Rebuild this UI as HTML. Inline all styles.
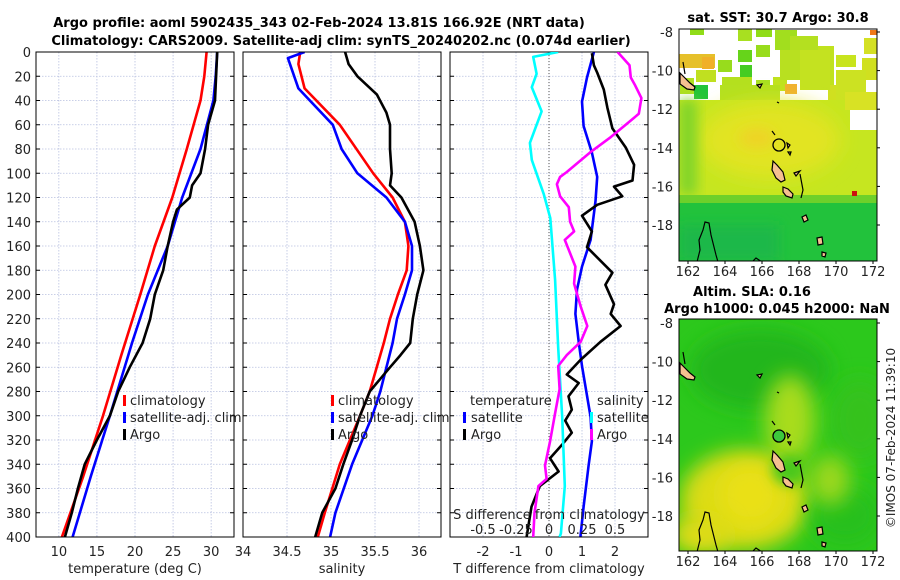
<!DOCTYPE html>
<html><head><meta charset="utf-8"><style>
html,body{margin:0;padding:0;background:#fff;}
svg{display:block;font-family:"DejaVu Sans","Liberation Sans",sans-serif;}
</style></head><body>
<svg id="fig" width="900" height="580" viewBox="0 0 900 580">
<defs>
<filter id="blur6" x="-50%" y="-50%" width="200%" height="200%"><feGaussianBlur stdDeviation="6"/></filter>
<filter id="blur10" x="-50%" y="-50%" width="200%" height="200%"><feGaussianBlur stdDeviation="10"/></filter>
<clipPath id="cm1"><rect x="679" y="29" width="198" height="232"/></clipPath>
<clipPath id="cm2"><rect x="679" y="319" width="198" height="232"/></clipPath>
<clipPath id="cp1"><rect x="36" y="52" width="198" height="485"/></clipPath>
<clipPath id="cp2"><rect x="243" y="52" width="198" height="485"/></clipPath>
<clipPath id="cp3"><rect x="450" y="52" width="198" height="485"/></clipPath>
</defs>
<text x="319" y="27" text-anchor="middle" font-weight="bold" font-size="13">Argo profile: aoml 5902435_343 02-Feb-2024 13.81S 166.92E (NRT data)</text>
<text x="341" y="45" text-anchor="middle" font-weight="bold" font-size="13">Climatology: CARS2009. Satellite-adj clim: synTS_20240202.nc (0.074d earlier)</text>

<!-- Map 1 SST -->
<g clip-path="url(#cm1)">
<rect x="679" y="29" width="198" height="232" fill="#c6e41e"/>
<rect x="679" y="29" width="198" height="72" fill="#ffffff"/>
<g fill="#a8e020">
<rect x="690" y="29" width="14" height="6" fill="#90dc18"/><rect x="738" y="29" width="14" height="12"/><rect x="756" y="29" width="16" height="8" fill="#90dc18"/>
<rect x="775" y="30" width="22" height="20" fill="#a2de1e"/><rect x="790" y="36" width="28" height="30" fill="#b4e020"/><rect x="818" y="46" width="16" height="40" fill="#c0e21e"/>
<rect x="836" y="55" width="20" height="12" fill="#c8e41e"/><rect x="864" y="38" width="13" height="16" fill="#d4e024"/><rect x="862" y="58" width="15" height="22" fill="#d0e020"/>
<rect x="738" y="50" width="14" height="12" fill="#66d41a"/><rect x="756" y="45" width="14" height="12" fill="#98dc1c"/><rect x="718" y="60" width="14" height="12" fill="#98dc1c"/>
<rect x="740" y="65" width="12" height="12" fill="#44cc22"/><rect x="773" y="77" width="14" height="14" fill="#c0e21e"/><rect x="794" y="66" width="26" height="14" fill="#c4e21e"/>
<rect x="679" y="54" width="36" height="14" fill="#e6c02a"/><rect x="722" y="77" width="30" height="14" fill="#b4e01e"/><rect x="756" y="80" width="14" height="8" fill="#a8e020"/>
<rect x="828" y="85" width="22" height="16" fill="#d0e020"/><rect x="680" y="78" width="14" height="16" fill="#b0e020"/><rect x="694" y="85" width="14" height="14" fill="#22c43a"/>
<rect x="785" y="84" width="12" height="10" fill="#f0b030"/>
<rect x="702" y="57" width="12" height="12" fill="#f0b028"/><rect x="870" y="30" width="7" height="5" fill="#f07818"/>
<rect x="800" y="50" width="30" height="40" fill="#c4e220"/><rect x="780" y="50" width="20" height="30" fill="#b8e020"/>
<rect x="720" y="85" width="60" height="16" fill="#b4e020"/><rect x="836" y="70" width="30" height="30" fill="#cce222"/>
<rect x="696" y="70" width="20" height="12" fill="#c0e020"/>
</g>
<rect x="679" y="100" width="198" height="105" fill="#c6e620"/>
<ellipse cx="770" cy="140" rx="70" ry="38" fill="#e2e424" filter="url(#blur10)"/>
<ellipse cx="757" cy="138" rx="18" ry="10" fill="#eed428" filter="url(#blur6)"/>
<rect x="679" y="100" width="18" height="95" fill="#80d42a" filter="url(#blur6)"/>
<rect x="850" y="110" width="27" height="20" fill="#ffffff"/><rect x="845" y="92" width="32" height="18" fill="#d8e224"/>
<rect x="679" y="195" width="198" height="12" fill="#6ed02a"/>
<rect x="679" y="203" width="198" height="60" fill="#22c23c"/>
<rect x="679" y="225" width="100" height="36" fill="#1cb848" filter="url(#blur6)"/>
<rect x="852" y="191" width="5" height="5" fill="#cc1010"/>
</g>
<rect x="679" y="29" width="198" height="232" fill="none" stroke="#000"/>

<!-- Map 2 SLA -->
<g clip-path="url(#cm2)">
<rect x="679" y="319" width="198" height="232" fill="#2cc81c"/>
<ellipse cx="760" cy="370" rx="70" ry="40" fill="#22b61e" filter="url(#blur10)"/>
<ellipse cx="860" cy="420" rx="30" ry="40" fill="#36c21a" filter="url(#blur10)"/>
<ellipse cx="790" cy="420" rx="25" ry="45" fill="#a8dc1e" filter="url(#blur10)"/>
<ellipse cx="745" cy="500" rx="65" ry="50" fill="#dcdc18" filter="url(#blur10)"/>
<ellipse cx="750" cy="495" rx="30" ry="30" fill="#eae014" filter="url(#blur10)"/>
<ellipse cx="700" cy="535" rx="30" ry="20" fill="#e0dc18" filter="url(#blur10)"/>
<ellipse cx="790" cy="470" rx="18" ry="15" fill="#48c81a" filter="url(#blur6)"/>
<ellipse cx="845" cy="515" rx="35" ry="30" fill="#28c01e" filter="url(#blur10)"/>
<ellipse cx="830" cy="480" rx="20" ry="25" fill="#9cd81e" filter="url(#blur10)"/>
</g>
<rect x="679" y="319" width="198" height="232" fill="none" stroke="#000"/>
<g id="coast1" clip-path="url(#cm1)" fill="#f5c090" stroke="#000" stroke-width="1.2">
<path d="M683,62 L685,74 M680,73 L684,77 L690,83 L695,87 L694,90 L687,89 L680,84Z"/>
<path d="M773,161 L777,165 L783,172 L785,180 L781,182 L776,178 L772,170Z"/>
<path d="M783,187 L788,189 L793,194 L792,198 L786,196 L783,192Z"/>
<path d="M802,217 L806,215 L808,220 L804,222Z"/><path d="M817,238 L822,237 L823,244 L818,245Z"/><path d="M822,252 L826,253 L825,257 L822,256Z"/>
<path d="M800,174 L803,190 L801,198" fill="none"/><path d="M794,173 L800,171 L796,176Z"/>
<path d="M787,143 L790,145 L788,148Z"/><path d="M788,152 L791,152 L790,155Z"/><path d="M772,131 L775,135" fill="none"/>
<path d="M697,262 L700,250 L699,240 L703,230 L705,222 L709,223 L711,235 L714,247 L716,255 L718,262" fill="none"/>
<path d="M752,262 L756,258 L762,262" fill="none"/><path d="M757,85 L762,84 L760,88Z"/><path d="M777,102 L779,103"/>
</g>
<g clip-path="url(#cm2)">
<use href="#coast1" transform="translate(0,290)"/>
</g>
<circle cx="779" cy="145" r="6" fill="none" stroke="#000" stroke-width="1.3"/>
<circle cx="779" cy="436" r="6" fill="#3cc83c" stroke="#000" stroke-width="1.3"/>
<text x="778" y="22" text-anchor="middle" font-weight="bold" font-size="13">sat. SST: 30.7 Argo: 30.8</text>
<text x="752" y="296" text-anchor="middle" font-weight="bold" font-size="13">Altim. SLA: 0.16</text>
<text x="777" y="313" text-anchor="middle" font-weight="bold" font-size="13">Argo h1000: 0.045 h2000: NaN</text>
<text transform="translate(895,438) rotate(-90)" text-anchor="middle" font-size="12" fill="#222">©IMOS 07-Feb-2024 11:39:10</text>
<g id="mapaxes" font-size="12" fill="#222"></g>

<g id="panels"></g>
</svg>
<script>
// ---- data ----
const depthTicks = [0,20,40,60,80,100,120,140,160,180,200,220,240,260,280,300,320,340,360,380,400];
const tempTicks = [10,15,20,25,30];
const salTicks = [34,34.5,35,35.5,36];
const salTickLabels = ["34","34.5","35","35.5","36"];
const tdiffTicks = [-2,-1,0,1,2];
const sdiffTicks = [-0.5,-0.25,0,0.25,0.5];
const sdiffTickLabels = ["-0.5","-0.25","0","0.25","0.5"];
const lonTicks = [162,164,166,168,170,172];
const latTicks = [-8,-10,-12,-14,-16,-18];

const tClimDepth = [0,20,40,80,120,160,200,250,300,350,400];
const tClimVal   = [29.4,29.1,28.6,26.8,24.9,22.6,20.7,18.2,15.8,13.2,10.4];
const tSatDepth  = [0,20,40,80,120,160,200,240,300,350,400];
const tSatVal    = [30.8,30.6,30.3,28.6,26.2,24.3,21.7,19.6,16.7,14.2,11.8];
const tArgoDepth = [0,40,60,80,100,110,120,130,140,160,180,200,220,240,260,280,300,320,340,360,380,400];
const tArgoVal   = [30.8,30.5,29.6,29.2,28.6,27.5,27.2,25.5,25.0,24.3,23.7,22.6,22.0,21.0,19.3,17.8,16.7,15.0,13.4,12.5,11.7,10.8];

const sClimDepth = [0,10,30,60,100,120,140,160,180,200,220,240,280,300,340,380,400];
const sClimVal   = [34.65,34.63,34.7,35.1,35.48,35.7,35.84,35.88,35.86,35.76,35.67,35.6,35.44,35.33,35.1,34.93,34.85];
const sSatDepth  = [0,5,30,60,80,100,120,140,160,180,200,220,240,280,300,340,380,400];
const sSatVal    = [34.7,34.51,34.63,35.02,35.12,35.3,35.63,35.84,35.92,35.92,35.84,35.75,35.7,35.56,35.47,35.24,35.05,34.99];
const sArgoDepth = [0,10,20,35,50,60,80,100,110,120,140,160,180,200,220,240,250,260,280,300,320,340,360,380,400];
const sArgoVal   = [35.16,35.2,35.3,35.52,35.63,35.67,35.67,35.69,35.67,35.8,35.95,36.01,36.05,35.98,35.93,35.9,35.79,35.67,35.44,35.33,35.24,35.14,35.05,34.9,34.82];

const dtSatDepth = [0,21,41,61,83,103,123,155,177,196,216,239,259,301,321,341,375,400];
const dtSatVal   = [1.36,1.15,1.0,1.05,1.3,1.46,1.41,1.26,1.0,0.85,0.8,0.9,1.0,1.26,1.3,1.2,1.05,0.95];
const dtArgoDepth = [1,11,17,31,46,63,79,93,106,111,119,126,135,148,161,182,192,208,216,226,239,254,266,273,284,295,304,314,324,335,346,358,375,400];
const dtArgoVal   = [1.3,1.36,1.46,1.66,1.77,1.92,2.33,2.58,2.53,1.97,2.22,1.46,1.0,1.3,1.15,1.92,1.71,1.97,1.87,2.17,1.56,0.95,0.54,0.9,0.59,0.69,0.49,0.69,0.39,0.03,0.29,-0.28,-0.53,-0.68];
const dsSatDepth = [0,4,18,29,49,75,89,117,137,188,244,301,358,397,400];
const dsSatVal   = [0.07,-0.12,-0.094,-0.13,-0.056,-0.145,-0.13,-0.04,0.01,0.046,0.07,0.1,0.12,0.09,0.08];
const dsArgoDepth = [0,11,21,27,38,51,61,70,83,99,103,109,119,128,140,148,155,177,191,210,226,239,250,259,278,298,321,341,352,358,380,400];
const dsArgoVal   = [0.52,0.61,0.62,0.65,0.70,0.68,0.57,0.47,0.31,0.135,0.084,0.06,0.084,0.15,0.16,0.19,0.12,0.2,0.19,0.24,0.29,0.24,0.135,0.07,0.08,0.046,0.008,-0.03,-0.018,-0.08,-0.11,-0.12];

// ---- layout ----
const NS = "http://www.w3.org/2000/svg";
const top0 = 52, bot0 = 537;
const yD = d => top0 + (d/400)*(bot0-top0);
const svg = document.getElementById('panels');
function mk(tag, attrs, parent){ const e=document.createElementNS(NS,tag); for(const k in attrs) e.setAttribute(k,attrs[k]); (parent||svg).appendChild(e); return e; }

function panel(x0, xmin, xmax, name){
  const w=198;
  const xf = v => x0 + (v-xmin)/(xmax-xmin)*w;
  const g = mk('g',{});
  
  
  return {x0,w,xf,g};
}
function grid(p, xt, showY){
  depthTicks.forEach(d=>{
    const l=mk('line',{x1:p.x0,x2:p.x0+p.w,y1:yD(d),y2:yD(d),stroke:'#b8c0e0','stroke-width':0.8,'stroke-dasharray':'1.5,1.5'},p.g);
    
    
    mk('line',{x1:p.x0,x2:p.x0+4,y1:yD(d),y2:yD(d),stroke:'#000'},p.g);
    mk('line',{x1:p.x0+p.w-4,x2:p.x0+p.w,y1:yD(d),y2:yD(d),stroke:'#000'},p.g);
    if(showY){
      const t=mk('text',{x:p.x0-5,y:yD(d)+5,'text-anchor':'end','font-size':13,fill:'#222'},p.g);
      t.textContent=d;
      
      
    }
  });
  xt.forEach(v=>{
    const l=mk('line',{x1:p.xf(v),x2:p.xf(v),y1:top0,y2:bot0,stroke:'#b8c0e0','stroke-width':0.8,'stroke-dasharray':'1.5,1.5'},p.g);
    
    
  });
}
function series(p, depths, vals, color, clip, name){
  const pts = depths.map((d,i)=>p.xf(vals[i]).toFixed(1)+','+yD(d).toFixed(1)).join(' ');
  const pl = mk('polyline',{points:pts,fill:'none',stroke:color,'stroke-width':2.6,'stroke-linejoin':'round','clip-path':'url(#'+clip+')'},p.g);
  
  
}
function frame(p){ mk('rect',{x:p.x0,y:top0,width:p.w,height:bot0-top0,fill:'none',stroke:'#000'},p.g); }
function xlabels(p, ticks, labels, y){
  ticks.forEach((v,i)=>{
    const t=mk('text',{x:p.xf(v),y:y,'text-anchor':'middle','font-size':13,fill:'#222'},p.g);
    t.textContent=labels?labels[i]:v;
    
    
  });
}
function txt(x,y,s,opts,name){
  const t=mk('text',Object.assign({x:x,y:y,'font-size':13,fill:'#222'},opts||{}));
  t.textContent=s;
  
  
  return t;
}
function legMark(x,y,color){
  const r=mk('rect',{x:x,y:y-9,width:3,height:11,fill:color});
  
  
}

// Panel 1 temperature
const p1 = panel(36, 7, 33, 'temperature-panel');
grid(p1, tempTicks, true);
series(p1, tClimDepth, tClimVal, '#ff0000', 'cp1', 'temp-climatology-line');
series(p1, tSatDepth, tSatVal, '#0000ff', 'cp1', 'temp-satellite-line');
series(p1, tArgoDepth, tArgoVal, '#000000', 'cp1', 'temp-argo-line');
frame(p1); xlabels(p1, tempTicks, null, 556);
txt(135, 573, 'temperature (deg C)', {'text-anchor':'middle'}, 'temperature-axis-title');

// Panel 2 salinity
const p2 = panel(243, 34, 36.25, 'salinity-panel');
grid(p2, salTicks, false);
series(p2, sClimDepth, sClimVal, '#ff0000', 'cp2', 'sal-climatology-line');
series(p2, sSatDepth, sSatVal, '#0000ff', 'cp2', 'sal-satellite-line');
series(p2, sArgoDepth, sArgoVal, '#000000', 'cp2', 'sal-argo-line');
frame(p2); xlabels(p2, salTicks, salTickLabels, 556);
txt(342, 573, 'salinity', {'text-anchor':'middle'}, 'salinity-axis-title');

// Panel 3 differences
const p3 = panel(450, -3, 3, 'difference-panel');
grid(p3, tdiffTicks, false);
const z = mk('line',{x1:p3.xf(0),x2:p3.xf(0),y1:top0,y2:bot0,stroke:'#555','stroke-width':1,'stroke-dasharray':'1,2'},p3.g);


const p3s = panel(450, -0.75, 0.75, 'salinity-difference-scale');
series(p3s, dsSatDepth, dsSatVal, '#00ffff', 'cp3', 'sdiff-satellite-line');
series(p3, dtSatDepth, dtSatVal, '#0000ff', 'cp3', 'tdiff-satellite-line');
series(p3, dtArgoDepth, dtArgoVal, '#000000', 'cp3', 'tdiff-argo-line');
series(p3s, dsArgoDepth, dsArgoVal, '#ff00ff', 'cp3', 'sdiff-argo-line');
frame(p3); xlabels(p3, tdiffTicks, null, 556);
txt(549, 573, 'T difference from climatology', {'text-anchor':'middle'}, 'tdiff-axis-title');
txt(549, 519, 'S difference from climatology', {'text-anchor':'middle'}, 'sdiff-axis-title');
xlabels(p3s, sdiffTicks, sdiffTickLabels, 534);

// legends
legMark(123,404,'#ff0000'); txt(130,405,'climatology',{},'legend-climatology');
legMark(123,421,'#0000ff'); txt(130,422,'satellite-adj. clim',{},'legend-satellite-adj');
legMark(123,438,'#000000'); txt(130,439,'Argo',{},'legend-argo');
legMark(331,404,'#ff0000'); txt(338,405,'climatology',{},'legend-climatology-2');
legMark(331,421,'#0000ff'); txt(338,422,'satellite-adj. clim',{},'legend-satellite-adj-2');
legMark(331,438,'#000000'); txt(338,439,'Argo',{},'legend-argo-2');
txt(470,405,'temperature',{},'legend-temperature-header');
legMark(463,421,'#0000ff'); txt(471,422,'satellite',{},'legend-tsat');
legMark(463,438,'#000000'); txt(471,439,'Argo',{},'legend-targo');
txt(597,405,'salinity',{},'legend-salinity-header');
legMark(590,421,'#00ffff'); txt(597,422,'satellite',{},'legend-ssat');
legMark(590,438,'#ff00ff'); txt(597,439,'Argo',{},'legend-sargo');

// map axes
const ma = document.getElementById('mapaxes');
const lonX = lon => 688 + (lon-162)*18.5;
[[32,261],[323,551]].forEach(([lat8, bottom],mi)=>{
  lonTicks.forEach(l=>{
    const t=mk('text',{x:lonX(l),y:bottom+15,'text-anchor':'middle','font-size':13,fill:'#222'},ma);
    t.textContent=l;
    
    
    mk('line',{x1:lonX(l),x2:lonX(l),y1:bottom,y2:bottom+3,stroke:'#000'},ma);
  });
  latTicks.forEach(l=>{
    const y = lat8 + (-8-l)*19.3;
    const t=mk('text',{x:673,y:y+5,'text-anchor':'end','font-size':13,fill:'#222'},ma);
    t.textContent=l;
    
    
    mk('line',{x1:877,x2:880,y1:y,y2:y,stroke:'#000'},ma);
  });
});
</script>
</body></html>
